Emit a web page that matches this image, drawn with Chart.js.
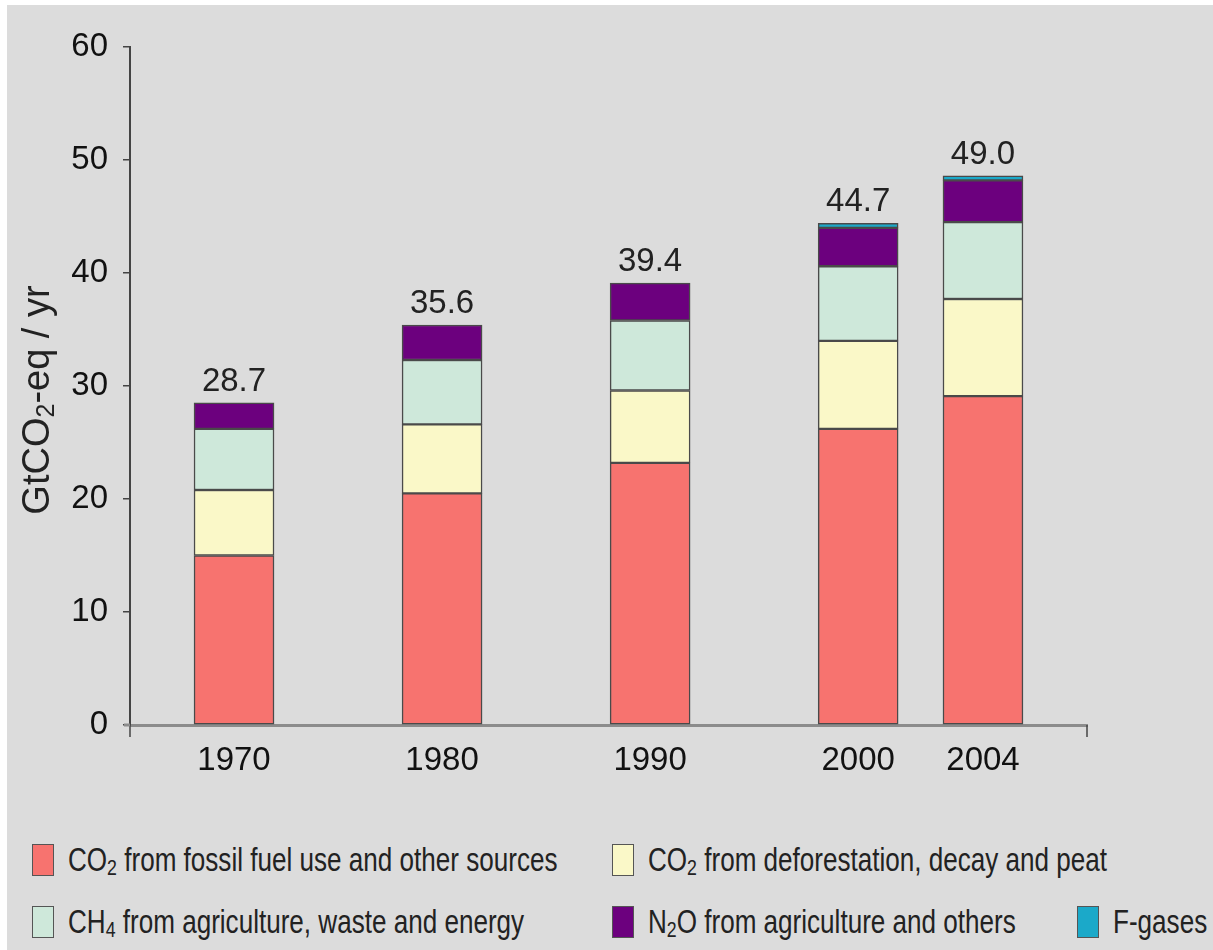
<!DOCTYPE html>
<html>
<head>
<meta charset="utf-8">
<script src="https://cdn.jsdelivr.net/npm/chart.js@4.4.0/dist/chart.umd.min.js"></script>
<style>
    body { margin: 0; background: #ffffff; font-family: "Liberation Sans", Arial, sans-serif; }
    #frame { position: absolute; left: 7px; top: 5px; width: 1206px; height: 945px; background: #dcdcdc; }
    #chartCanvas { position: absolute; left: 0; top: 0; }
    .legendItem { position: absolute; display: flex; align-items: center; height: 34px; white-space: nowrap; }
    .legendBox { width: 22px; height: 32px; border: 1px solid #555; box-sizing: border-box; margin-right: 14px; flex: none; }
    .legendText { display: inline-block; font-size: 33px; color: #222; transform: scaleX(0.79); transform-origin: left center; }
    .legendText sub { font-size: 0.68em; vertical-align: -0.18em; line-height: 0; }
    #lg0 { left: 32px; top: 843px; }
    #lg1 { left: 612px; top: 843px; }
    #lg2 { left: 32px; top: 905px; }
    #lg3 { left: 612px; top: 905px; }
    #lg4 { left: 1077px; top: 905px; }
</style>
</head>
<body>
<div id="frame"></div>
<canvas id="chartCanvas" width="1213" height="800"></canvas>
<div id="legend"></div>

<script>
"use strict";

// Data (GtCO2-eq / yr)
const years = ["1970", "1980", "1990", "2000", "2004"];
const totals = [28.7, 35.6, 39.4, 44.7, 49.0];

const co2Fossil = [15.0, 20.5, 23.2, 26.2, 29.1];
const co2Deforestation = [5.8, 6.1, 6.4, 7.8, 8.6];
const ch4 = [5.4, 5.7, 6.2, 6.6, 6.8];
const n2o = [2.3, 3.1, 3.3, 3.4, 3.7];
const fGases = [0, 0, 0, 0.4, 0.4];

// Category slots along the x axis (blank slots keep the uneven spacing)
const slotLabels = ["", "", "1970", "", "", "", "", "1980", "", "", "", "", "1990",
                    "", "", "", "", "2000", "", "", "2004", "", ""];

const seriesNames = [
    "CO<sub>2</sub> from fossil fuel use and other sources",
    "CO<sub>2</sub> from deforestation, decay and peat",
    "CH<sub>4</sub> from agriculture, waste and energy",
    "N<sub>2</sub>O from agriculture and others",
    "F-gases"
];
const seriesValues = [co2Fossil, co2Deforestation, ch4, n2o, fGases];
const seriesColors = ["#f7736f", "#faf8c8", "#cee8da", "#6c007e", "#1ba9c9"];

const fontFamily = "'Liberation Sans', Arial, sans-serif";

// Spread values for each year onto its slot
function toSlots(values) {
    return slotLabels.map((l) => {
        const i = years.indexOf(l);
        return i < 0 ? null : values[i];
    });
}

// Totals above each stack
const totalsPlugin = {
    id: "totals",
    afterDatasetsDraw(chart) {
        const { ctx, scales: { x, y } } = chart;
        ctx.save();
        ctx.font = "33px " + fontFamily;
        ctx.fillStyle = "#222";
        ctx.textAlign = "center";
        ctx.textBaseline = "alphabetic";
        years.forEach((yr, i) => {
            const stackTop = seriesValues.reduce((s, arr) => s + (arr[i] || 0), 0);
            const px = x.getPixelForValue(slotLabels.indexOf(yr));
            const py = y.getPixelForValue(stackTop);
            ctx.fillText(totals[i].toFixed(1), px, py - 12);
        });
        ctx.restore();
    }
};

// Y title with subscript, plus small axis end marks
const decorPlugin = {
    id: "decor",
    afterDraw(chart) {
        const { ctx, chartArea } = chart;
        ctx.save();

        // axis ends
        ctx.strokeStyle = "#444";
        ctx.lineWidth = 1.5;
        ctx.beginPath();
        ctx.moveTo(chartArea.left, chartArea.bottom);
        ctx.lineTo(chartArea.left, chartArea.bottom + 12);
        ctx.moveTo(chartArea.right, chartArea.bottom);
        ctx.lineTo(chartArea.right, chartArea.bottom + 12);
        ctx.stroke();
        ctx.strokeStyle = "#8c8c8c";
        ctx.lineWidth = 3;
        ctx.beginPath();
        ctx.moveTo(chartArea.left - 6, chartArea.bottom);
        ctx.lineTo(chartArea.left, chartArea.bottom);
        ctx.stroke();

        // rotated title "GtCO2-eq / yr"
        const big = "38px " + fontFamily;
        const small = "25px " + fontFamily;
        ctx.font = big;
        const w1 = ctx.measureText("GtCO").width;
        const w3 = ctx.measureText("-eq / yr").width;
        ctx.font = small;
        const w2 = ctx.measureText("2").width;
        const total = w1 + w2 + w3;

        ctx.translate(49, (chartArea.top + chartArea.bottom) / 2 + 14);
        ctx.rotate(-Math.PI / 2);
        ctx.fillStyle = "#222";
        ctx.textBaseline = "alphabetic";
        ctx.textAlign = "left";
        let xPos = -total / 2;
        ctx.font = big;
        ctx.fillText("GtCO", xPos, 0);
        xPos += w1;
        ctx.font = small;
        ctx.fillText("2", xPos, 5);
        xPos += w2;
        ctx.font = big;
        ctx.fillText("-eq / yr", xPos, 0);
        ctx.restore();
    }
};

function handleOnLoad() {
    const datasets = seriesValues.map((vals, i) => ({
        label: seriesNames[i].replace(/<[^>]+>/g, ""),
        data: toSlots(vals),
        backgroundColor: seriesColors[i],
        borderColor: "#4a4a4a",
        borderWidth: 1.5,
        borderSkipped: false,
        barThickness: 80
    }));

    const config = {
        type: "bar",
        data: { labels: slotLabels, datasets: datasets },
        options: {
            responsive: false,
            animation: false,
            devicePixelRatio: 1,
            layout: { padding: { top: 47, right: 126, left: 0, bottom: 0 } },
            plugins: {
                legend: { display: false },
                tooltip: { enabled: false }
            },
            scales: {
                x: {
                    stacked: true,
                    offset: true,
                    grid: { display: false, drawTicks: false },
                    border: { color: "#8c8c8c", width: 3 },
                    ticks: {
                        autoSkip: false, maxRotation: 0, minRotation: 0,
                        padding: 16, color: "#111",
                        font: { family: fontFamily, size: 33 }
                    },
                    afterFit: (s) => { s.height = 75; }
                },
                y: {
                    stacked: true,
                    min: 0,
                    max: 60,
                    grid: { drawOnChartArea: false, drawTicks: true, tickLength: 7, color: "#444", lineWidth: 1.5 },
                    border: { color: "#444", width: 2 },
                    ticks: {
                        stepSize: 10, padding: 15, color: "#111",
                        font: { family: fontFamily, size: 33 }
                    },
                    afterFit: (s) => { s.width = 130; }
                }
            }
        },
        plugins: [totalsPlugin, decorPlugin]
    };

    const ctx = document.getElementById("chartCanvas").getContext("2d");
    new Chart(ctx, config);

    // Legend
    const legend = document.getElementById("legend");
    seriesNames.forEach((name, i) => {
        const item = document.createElement("div");
        item.className = "legendItem";
        item.id = "lg" + i;
        const box = document.createElement("span");
        box.className = "legendBox";
        box.style.background = seriesColors[i];
        const txt = document.createElement("span");
        txt.className = "legendText";
        txt.innerHTML = name;
        item.appendChild(box);
        item.appendChild(txt);
        legend.appendChild(item);
    });
}

handleOnLoad();
</script>
</body>
</html>
